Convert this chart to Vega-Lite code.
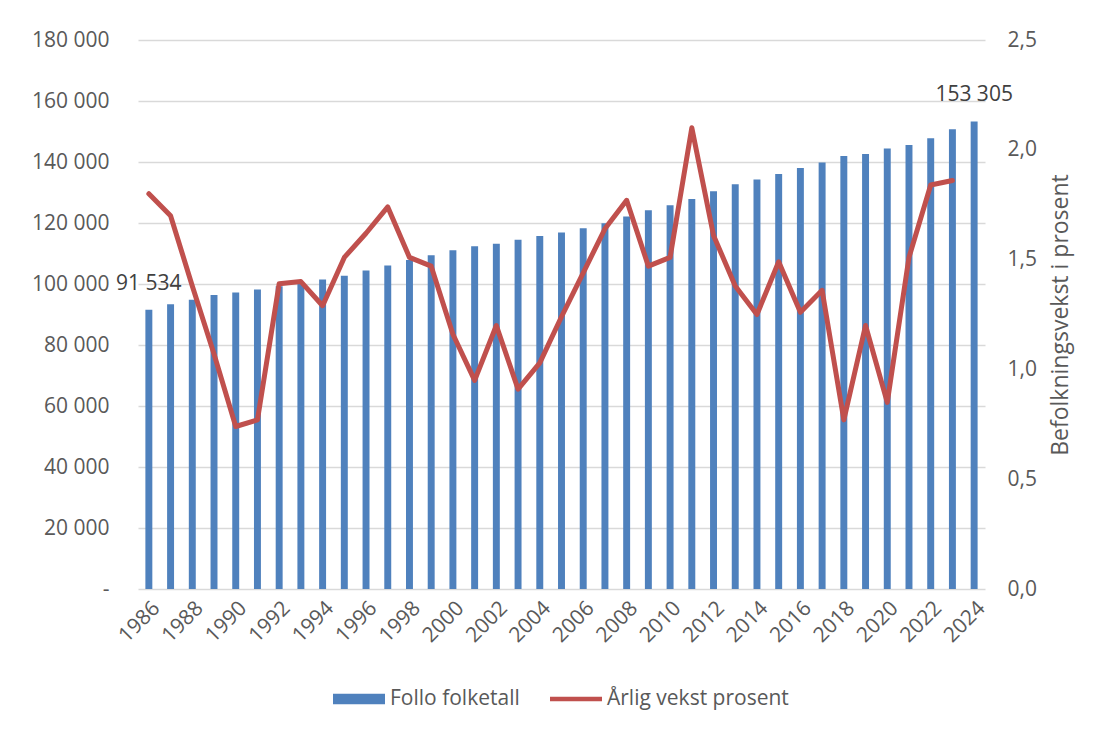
{
  "$schema": "https://vega.github.io/schema/vega-lite/v6.json",
  "width": 847,
  "height": 549,
  "autosize": {"type": "none"},
  "padding": {"left": 138, "top": 40, "right": 117, "bottom": 143},
  "background": "white",
  "config": {
    "locale": {"number": {"decimal": ",", "thousands": "\u00a0", "grouping": [3], "currency": ["", ""]}},
    "view": {"stroke": null},
    "font": "Open Sans",
    "axis": {
      "labelFont": "Open Sans", "labelFontSize": 21, "labelColor": "#595959",
      "titleFont": "Open Sans", "titleFontSize": 23, "titleColor": "#595959", "titleFontWeight": "normal",
      "ticks": false, "domain": false, "gridColor": "#D9D9D9", "gridWidth": 1.5
    }
  },
  "data": {"values": [
    {"year": 1986, "folketall": 91534, "vekst": 1.80},
    {"year": 1987, "folketall": 93400, "vekst": 1.70},
    {"year": 1988, "folketall": 94800, "vekst": 1.38},
    {"year": 1989, "folketall": 96400, "vekst": 1.07},
    {"year": 1990, "folketall": 97200, "vekst": 0.74},
    {"year": 1991, "folketall": 98200, "vekst": 0.77},
    {"year": 1992, "folketall": 99300, "vekst": 1.39},
    {"year": 1993, "folketall": 100500, "vekst": 1.40},
    {"year": 1994, "folketall": 101500, "vekst": 1.29},
    {"year": 1995, "folketall": 102700, "vekst": 1.51},
    {"year": 1996, "folketall": 104400, "vekst": 1.62},
    {"year": 1997, "folketall": 106100, "vekst": 1.74},
    {"year": 1998, "folketall": 107900, "vekst": 1.51},
    {"year": 1999, "folketall": 109400, "vekst": 1.47},
    {"year": 2000, "folketall": 111100, "vekst": 1.16},
    {"year": 2001, "folketall": 112400, "vekst": 0.95},
    {"year": 2002, "folketall": 113200, "vekst": 1.20},
    {"year": 2003, "folketall": 114500, "vekst": 0.91},
    {"year": 2004, "folketall": 115700, "vekst": 1.03},
    {"year": 2005, "folketall": 116900, "vekst": 1.24},
    {"year": 2006, "folketall": 118300, "vekst": 1.44},
    {"year": 2007, "folketall": 119900, "vekst": 1.64},
    {"year": 2008, "folketall": 122100, "vekst": 1.77},
    {"year": 2009, "folketall": 124200, "vekst": 1.47},
    {"year": 2010, "folketall": 125800, "vekst": 1.51},
    {"year": 2011, "folketall": 127900, "vekst": 2.10},
    {"year": 2012, "folketall": 130400, "vekst": 1.61},
    {"year": 2013, "folketall": 132700, "vekst": 1.38},
    {"year": 2014, "folketall": 134300, "vekst": 1.25},
    {"year": 2015, "folketall": 136100, "vekst": 1.49},
    {"year": 2016, "folketall": 138000, "vekst": 1.26},
    {"year": 2017, "folketall": 139800, "vekst": 1.36},
    {"year": 2018, "folketall": 142000, "vekst": 0.77},
    {"year": 2019, "folketall": 142600, "vekst": 1.20},
    {"year": 2020, "folketall": 144400, "vekst": 0.85},
    {"year": 2021, "folketall": 145600, "vekst": 1.51},
    {"year": 2022, "folketall": 147800, "vekst": 1.84},
    {"year": 2023, "folketall": 150700, "vekst": 1.86},
    {"year": 2024, "folketall": 153305, "vekst": null}
  ]},
  "layer": [
    {
      "layer": [
        {
          "mark": {"type": "bar"},
          "encoding": {
            "x": {
              "field": "year", "type": "ordinal",
              "scale": {"paddingInner": 0.68, "paddingOuter": 0.34},
              "axis": {"title": null, "labelAngle": -45, "labelExpr": "datum.value % 2 === 0 ? datum.label : ''", "labelPadding": 8, "grid": false}
            },
            "y": {
              "field": "folketall", "type": "quantitative",
              "scale": {"domain": [0, 180000], "nice": false},
              "axis": {"title": null, "values": [0, 20000, 40000, 60000, 80000, 100000, 120000, 140000, 160000, 180000], "format": ",.0f", "labelExpr": "datum.value === 0 ? '-' : datum.label", "labelPadding": 29, "grid": true}
            },
            "color": {
              "datum": "Follo folketall",
              "scale": {"domain": ["Follo folketall", "Årlig vekst prosent"], "range": ["#4F81BD", "#C0504D"]},
              "legend": {
                "orient": "none", "legendX": 195, "legendY": 633,
                "direction": "horizontal", "title": null,
                "labelFont": "Open Sans", "labelFontSize": 21, "labelColor": "#595959", "labelLimit": 400,
                "symbolSize": 2704, "symbolStrokeWidth": 0, "symbolOpacity": 1,
                "columnPadding": 30, "labelOffset": 5,
                "encode": {"symbols": {"update": {"shape": {"signal": "datum.value === 'Follo folketall' ? 'M-1,-0.2H1V0.2H-1Z' : 'M-1,-0.09H1V0.09H-1Z'"}}}}
              }
            }
          }
        },
        {
          "transform": [{"filter": "datum.year === 1986 || datum.year === 2024"}],
          "mark": {"type": "text", "font": "Open Sans", "fontSize": 21, "color": "#404040", "baseline": "middle", "dy": -26},
          "encoding": {
            "x": {"field": "year", "type": "ordinal"},
            "y": {"field": "folketall", "type": "quantitative"},
            "text": {"field": "folketall", "type": "quantitative", "format": ",.0f"}
          }
        }
      ]
    },
    {
      "mark": {"type": "line", "color": "#C0504D", "strokeWidth": 5, "strokeCap": "round", "strokeJoin": "round"},
      "encoding": {
        "x": {"field": "year", "type": "ordinal"},
        "y": {
          "field": "vekst", "type": "quantitative",
          "scale": {"domain": [0, 2.5], "nice": false},
          "axis": {"orient": "right", "title": "Befolkningsvekst i prosent", "values": [0, 0.5, 1, 1.5, 2, 2.5], "format": ".1f", "grid": false, "labelPadding": 22, "titleAngle": 270, "titlePadding": 36}
        }
      }
    }
  ],
  "resolve": {"scale": {"y": "independent"}}
}
